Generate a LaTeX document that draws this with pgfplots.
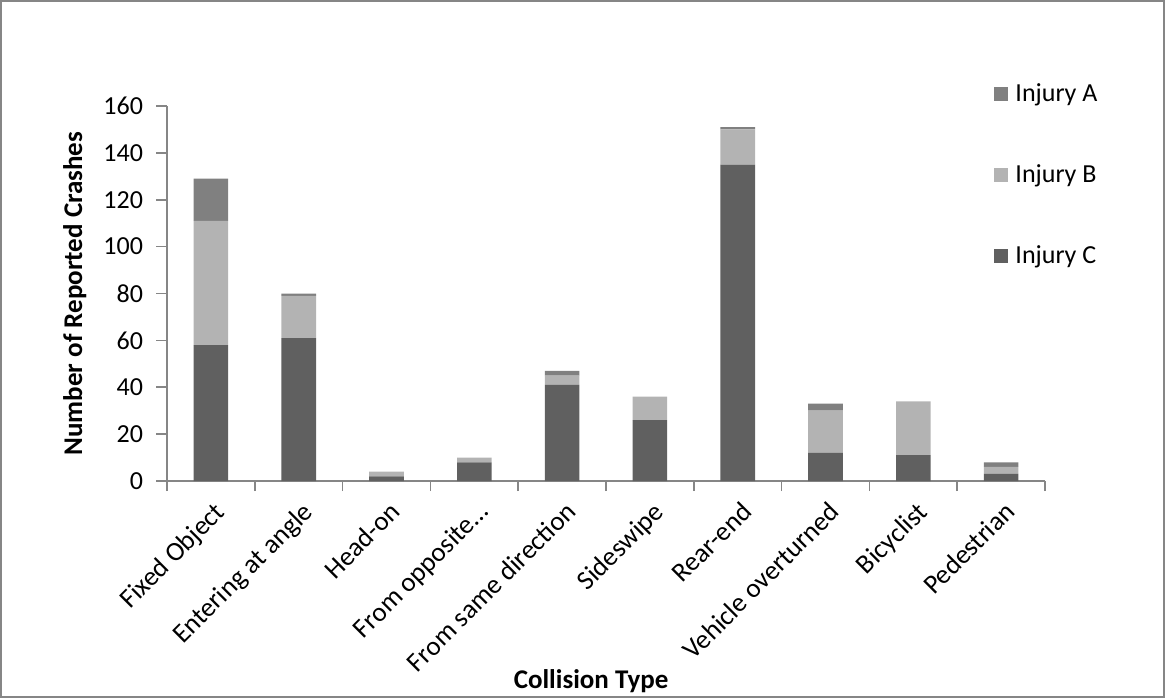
\documentclass[border=0pt]{standalone}
\usepackage{fontspec}
\setmainfont{Carlito}
\usepackage{pgfplots}
\pgfplotsset{compat=1.18}
\definecolor{injA}{HTML}{808080}
\definecolor{injB}{HTML}{B3B3B3}
\definecolor{injC}{HTML}{606060}
\definecolor{axgray}{HTML}{868686}
\newcommand{\chartfont}{\fontsize{13}{15.5}\selectfont}
\newcommand{\xlabfont}{\fontsize{13.5}{16}\selectfont}
\begin{document}
\begin{tikzpicture}
\draw[axgray, line width=1pt] (0.5pt,0.5pt) rectangle (582pt,348.5pt);
\begin{axis}[
  at={(83.5pt,108.5pt)}, anchor=south west,
  scale only axis, width=439pt, height=187.5pt,
  ybar stacked, bar width=17.3pt,
  xmin=-0.5, xmax=9.5, ymin=0, ymax=160,
  axis x line*=bottom, axis y line*=left,
  axis line style={axgray, line width=0.8pt, -},
  xtick={0,1,2,3,4,5,6,7,8,9},
  xticklabels={Fixed Object, Entering at angle, Head-on, From opposite\ldots, From same direction, Sideswipe, Rear-end, Vehicle overturned, Bicyclist, Pedestrian},
  minor xtick={-0.5,0.5,1.5,2.5,3.5,4.5,5.5,6.5,7.5,8.5,9.5},
  major x tick style={draw=none},
  minor x tick style={axgray, line width=0.8pt},
  y tick style={axgray, line width=0.8pt},
  tick align=outside,
  major tick length=5.5pt, minor tick length=5pt,
  ytick={0,20,...,160},
  /pgf/number format/assume math mode=true,
  tick label style={font=\chartfont, text=black},
  xticklabel style={font=\xlabfont, rotate=45, anchor=north east, inner sep=1pt, xshift=-1pt, yshift=-2.5pt},
  yticklabel style={xshift=-3pt},
  xlabel={Collision Type},
  ylabel={Number of Reported Crashes},
  label style={font=\xlabfont\bfseries},
  xlabel style={at={(axis description cs:0.483,0)}, anchor=base, yshift=-103.5pt},
  ylabel style={at={(axis description cs:-0.105,0.5)}, anchor=center},
  reverse legend,
  legend cell align=left,
  legend style={at={(0.942,1.072)}, anchor=north west, draw=none, fill=none,
    font=\chartfont, row sep=26pt, inner sep=0pt},
  legend image code/.code={\fill[#1] (0pt,-3.5pt) rectangle (7pt,3.5pt);},
]
\addplot[fill=injC, draw=none] coordinates {(0,58) (1,61) (2,2) (3,8) (4,41) (5,26) (6,135) (7,12) (8,11) (9,3)};
\addplot[fill=injB, draw=none] coordinates {(0,53) (1,18) (2,2) (3,2) (4,4) (5,10) (6,15) (7,18) (8,23) (9,3)};
\addplot[fill=injA, draw=none] coordinates {(0,18) (1,1) (2,0) (3,0) (4,2) (5,0) (6,1) (7,3) (8,0) (9,2)};
\legend{\hspace{1.5pt}Injury C, \hspace{1.5pt}Injury B, \hspace{1.5pt}Injury A}
\end{axis}
\end{tikzpicture}
\end{document}
